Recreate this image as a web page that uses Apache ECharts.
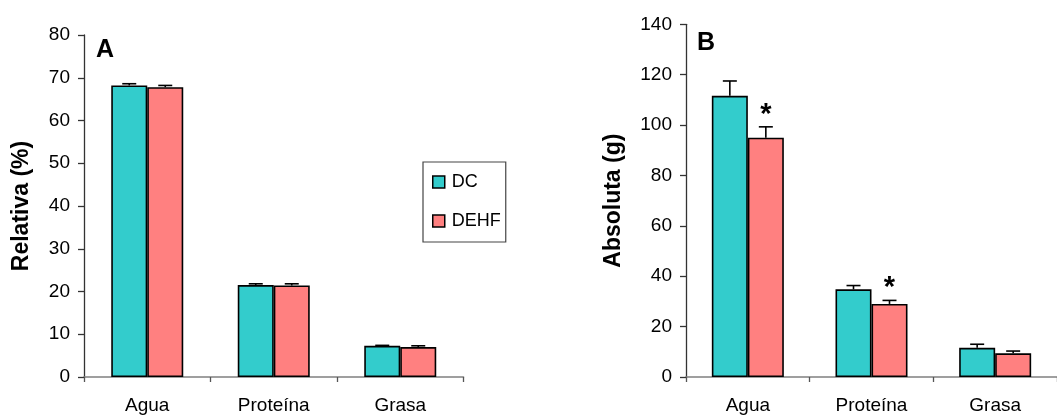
<!DOCTYPE html>
<html>
<head>
<meta charset="utf-8">
<script src="https://cdn.jsdelivr.net/npm/echarts@6/dist/echarts.min.js"></script>
<style>
html,body{margin:0;padding:0;background:#fff;}
#chart{width:1057px;height:415px;}
</style>
</head>
<body>
<div id="chart"></div>
<script>
// ---- data ----
const categories = ['Agua', 'Proteína', 'Grasa'];
const seriesNames = ['DC', 'DEHF'];
// Panel A: relative composition (%)
const relDC = [68.2, 21.5, 7.3];
const relDCErr = [0.4, 0.3, 0.1];
const relDEHF = [67.8, 21.4, 7.0];
const relDEHFErr = [0.4, 0.4, 0.3];
// Panel B: absolute composition (g)
const absDC = [111.6, 34.8, 11.6];
const absDCErr = [5.9, 1.5, 1.4];
const absDEHF = [95.0, 29.0, 9.4];
const absDEHFErr = [4.3, 1.4, 0.9];
const absDEHFSig = [true, true, false];
// axes
const relAxis = { min: 0, max: 80, interval: 10 };
const absAxis = { min: 0, max: 140, interval: 20 };
const panelLabels = ['A', 'B'];
const yTitles = ['Relativa (%)', 'Absoluta (g)'];

// ---- style ----
const FONT = '"Liberation Sans", Arial, sans-serif';
const TEAL = '#33CCCC';
const PINK = '#FF8080';
const BAR_W = 36;

const chart = echarts.init(document.getElementById('chart'), null, { renderer: 'canvas' });

function barSeries(name, data, color, idx) {
  return {
    name: name, type: 'bar', xAxisIndex: idx, yAxisIndex: idx,
    data: data, barWidth: BAR_W, barGap: '0%',
    itemStyle: { color: color, borderColor: '#000', borderWidth: 1.6 },
    emphasis: { disabled: true }, z: 2
  };
}

function errSeries(means, errs, offset, idx, sig) {
  const rows = means.map((m, i) => [i, m, errs[i], sig ? (sig[i] ? 1 : 0) : 0]);
  return {
    type: 'custom', xAxisIndex: idx, yAxisIndex: idx, z: 5, silent: true,
    data: rows,
    renderItem: function (params, api) {
      const c = api.value(0), m = api.value(1), e = api.value(2), s = api.value(3);
      const p0 = api.coord([c, m]);
      const p1 = api.coord([c, m + e]);
      const x = p0[0] + offset;
      const children = [
        { type: 'line', shape: { x1: x, y1: p0[1], x2: x, y2: p1[1] }, style: { stroke: '#000', lineWidth: 1.6 } },
        { type: 'line', shape: { x1: x - 7, y1: p1[1], x2: x + 7, y2: p1[1] }, style: { stroke: '#000', lineWidth: 1.6 } }
      ];
      if (s) {
        children.push({
          type: 'text', x: x, y: p1[1] - 12,
          style: { text: '*', fontFamily: FONT, fontWeight: 'bold', fontSize: 29, fill: '#000', align: 'center', verticalAlign: 'middle' }
        });
      }
      return { type: 'group', children: children };
    }
  };
}

function yAxis(idx, ax, title, gap) {
  return {
    type: 'value', gridIndex: idx, min: ax.min, max: ax.max, interval: ax.interval,
    name: title, nameLocation: 'middle', nameGap: gap, nameRotate: 90,
    nameTextStyle: { fontFamily: FONT, fontWeight: 'bold', fontSize: 23, color: '#000' },
    axisLine: { show: true, lineStyle: { color: '#333', width: 1.3 } },
    axisTick: { show: true, inside: false, length: 6, lineStyle: { color: '#333', width: 1.3 } },
    axisLabel: { fontFamily: FONT, fontSize: 19, color: '#000', margin: 14 },
    splitLine: { show: false }
  };
}

function xAxis(idx) {
  return {
    type: 'category', gridIndex: idx, data: categories,
    axisLine: { show: true, lineStyle: { color: '#808080', width: 1.6 } },
    axisTick: { show: true, length: 5, alignWithLabel: false, lineStyle: { color: '#555', width: 1.3 } },
    axisLabel: { fontFamily: FONT, fontSize: 19, color: '#000', margin: 19 },
    splitLine: { show: false }
  };
}

const option = {
  animation: false,
  backgroundColor: '#fff',
  title: [
    { text: panelLabels[0], left: 96, top: 38, textStyle: { fontFamily: FONT, fontWeight: 'bold', fontSize: 25, color: '#000' }, padding: 0 },
    { text: panelLabels[1], left: 697, top: 31, textStyle: { fontFamily: FONT, fontWeight: 'bold', fontSize: 25, color: '#000' }, padding: 0 }
  ],
  legend: {
    orient: 'vertical', left: 423, top: 162,
    data: seriesNames,
    icon: 'rect', itemWidth: 12, itemHeight: 12, itemGap: 21,
    padding: [11, 5, 12, 9],
    borderColor: '#444', borderWidth: 1.2,
    textStyle: { fontFamily: FONT, fontSize: 18, color: '#000', padding: [0, 0, 0, 2] },
    itemStyle: { borderColor: '#000', borderWidth: 1.5 },
    selectedMode: false
  },
  grid: [
    { left: 84, top: 35, width: 379.5, height: 342 },
    { left: 686, top: 24.3, width: 383, height: 354.4 }
  ],
  xAxis: [xAxis(0), xAxis(1)],
  yAxis: [yAxis(0, relAxis, yTitles[0], 51), yAxis(1, absAxis, yTitles[1], 61)],
  series: [
    barSeries(seriesNames[0], relDC, TEAL, 0),
    barSeries(seriesNames[1], relDEHF, PINK, 0),
    barSeries(seriesNames[0], absDC, TEAL, 1),
    barSeries(seriesNames[1], absDEHF, PINK, 1),
    errSeries(relDC, relDCErr, -BAR_W / 2, 0),
    errSeries(relDEHF, relDEHFErr, BAR_W / 2, 0),
    errSeries(absDC, absDCErr, -BAR_W / 2, 1),
    errSeries(absDEHF, absDEHFErr, BAR_W / 2, 1, absDEHFSig)
  ]
};
chart.setOption(option);
</script>
</body>
</html>
